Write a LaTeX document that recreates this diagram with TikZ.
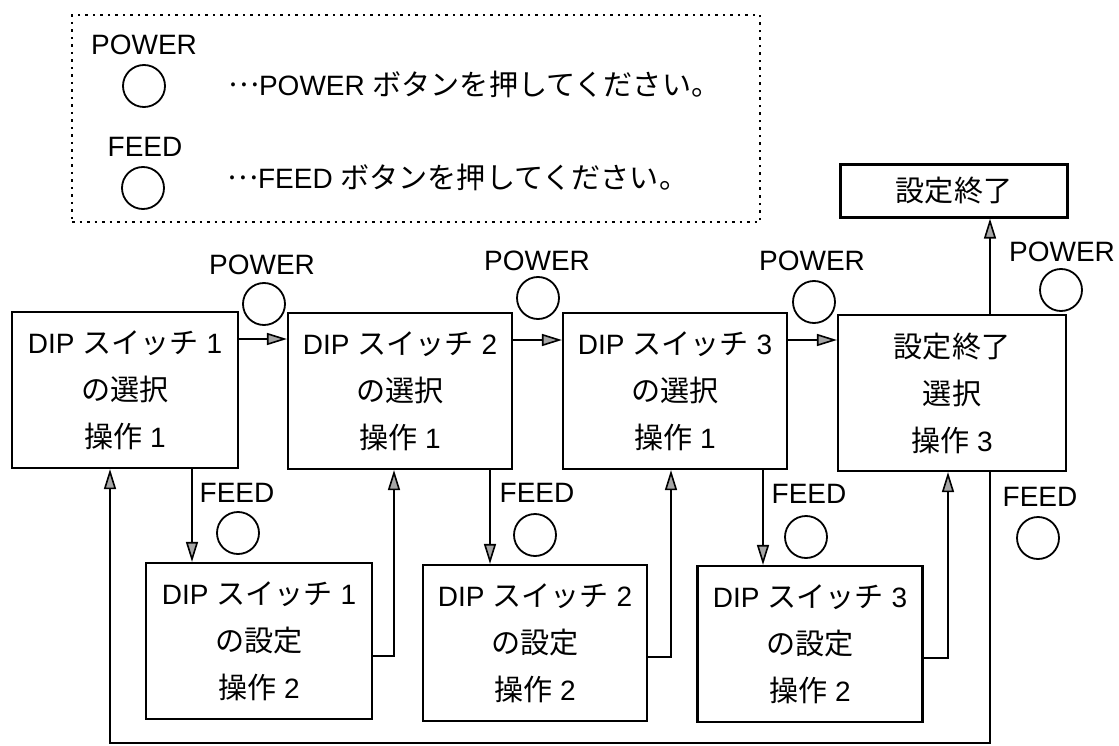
\documentclass[tikz,border=0pt]{standalone}
\usepackage{fontspec}
\setmainfont{Liberation Sans}
\newfontfamily\jp{Noto Sans CJK JP}[Scale=1.04]
\usetikzlibrary{arrows.meta}
\newcommand{\J}[1]{{\jp #1}}
\newcommand{\dotlead}{\raisebox{9pt}{\J{…}}}
\begin{document}
\begin{tikzpicture}[x=1pt,y=-1pt,
  box/.style={draw, line width=2.2pt, minimum width=226pt, minimum height=156pt, align=center, inner sep=0pt, font=\fontsize{28}{47}\selectfont},
  btn/.style={draw, circle, line width=1.8pt, minimum size=42pt, inner sep=0pt},
  lbl/.style={inner sep=0pt, font=\fontsize{28}{34}\selectfont},
  arr/.style={line width=1.6pt, -{Triangle[length=20pt,width=12pt,fill=black!35]}},
  ln/.style={line width=1.6pt}]
\useasboundingbox (0,0) rectangle (1119,746);
% legend
\node[draw, dash pattern=on 2.5pt off 5pt, line width=1.8pt, minimum width=688pt, minimum height=207pt, inner sep=0pt] (legend) at (416,118.5) {};
\node[lbl] (lp) at (144,45) {POWER};
\node[btn] (lpc) at (144,86) {};
\node[lbl, anchor=west] (lpt) at (228,84) {\dotlead POWER \J{ボタンを押してください。}};
\node[lbl] (lf) at (145,147) {FEED};
\node[btn] (lfc) at (143,188) {};
\node[lbl, anchor=west] (lft) at (227,177) {\dotlead FEED \J{ボタンを押してください。}};
% top row
\node[box] (A1) at (125,390) {DIP \J{スイッチ} 1\\\J{の選択}\\\J{操作} 1};
\node[box, minimum width=224pt] (A2) at (400,391) {DIP \J{スイッチ} 2\\\J{の選択}\\\J{操作} 1};
\node[box, minimum width=224pt] (A3) at (675,391) {DIP \J{スイッチ} 3\\\J{の選択}\\\J{操作} 1};
\node[box, minimum width=228pt] (A4) at (952,393) {\J{設定終了}\\\J{選択}\\\J{操作} 3};
\node[draw, line width=2.2pt, minimum width=227pt, minimum height=53pt, inner sep=0pt, font=\fontsize{28}{34}\selectfont] (E) at (954,191) {\J{設定終了}};
% bottom row
\node[box, minimum width=226pt] (B1) at (259,641) {DIP \J{スイッチ} 1\\\J{の設定}\\\J{操作} 2};
\node[box, minimum width=224pt] (B2) at (535,643) {DIP \J{スイッチ} 2\\\J{の設定}\\\J{操作} 2};
\node[box, minimum width=225pt] (B3) at (810,644) {DIP \J{スイッチ} 3\\\J{の設定}\\\J{操作} 2};
% POWER buttons
\node[lbl] (p1) at (262,265) {POWER};
\node[btn] (p1c) at (264,304) {};
\node[lbl] (p2) at (537,261) {POWER};
\node[btn] (p2c) at (538,298) {};
\node[lbl] (p3) at (812,261) {POWER};
\node[btn] (p3c) at (814,302) {};
\node[lbl] (p4) at (1062,252) {POWER};
\node[btn] (p4c) at (1061,290) {};
% FEED buttons
\node[lbl] (f1) at (237,493) {FEED};
\node[btn] (f1c) at (238,533) {};
\node[lbl] (f2) at (537,493) {FEED};
\node[btn] (f2c) at (535,535) {};
\node[lbl] (f3) at (809,494) {FEED};
\node[btn] (f3c) at (806,537) {};
\node[lbl] (f4) at (1040,497) {FEED};
\node[btn] (f4c) at (1038,538) {};
% connectors
\draw[arr] ([yshift=51pt]A1.east) -- ([yshift=51pt]A1.east -| A2.west);
\draw[arr] ([yshift=51pt]A2.east) -- ([yshift=51pt]A2.east -| A3.west);
\draw[arr] ([yshift=51pt]A3.east) -- ([yshift=51pt]A3.east -| A4.west);
\draw[arr] ([xshift=38pt]A4.north) -- ([xshift=38pt]A4.north |- E.south);
\draw[arr] ([xshift=67pt]A1.south) -- ([xshift=67pt]A1.south |- B1.north);
\draw[arr] ([xshift=90pt]A2.south) -- ([xshift=90pt]A2.south |- B2.north);
\draw[arr] ([xshift=88pt]A3.south) -- ([xshift=88pt]A3.south |- B3.north);
\draw[arr] ([yshift=-15pt]B1.east) -| ([xshift=-6pt]A2.south);
\draw[arr] ([yshift=-14pt]B2.east) -| ([xshift=-4pt]A3.south);
\draw[arr] ([yshift=-14pt]B3.east) -| ([xshift=-4pt]A4.south);
\coordinate (lb) at (0,743);
\draw[arr] ([xshift=38pt]A4.south) -- ([xshift=38pt]A4.south |- lb) -| ([xshift=-15pt]A1.south);
\end{tikzpicture}
\end{document}
